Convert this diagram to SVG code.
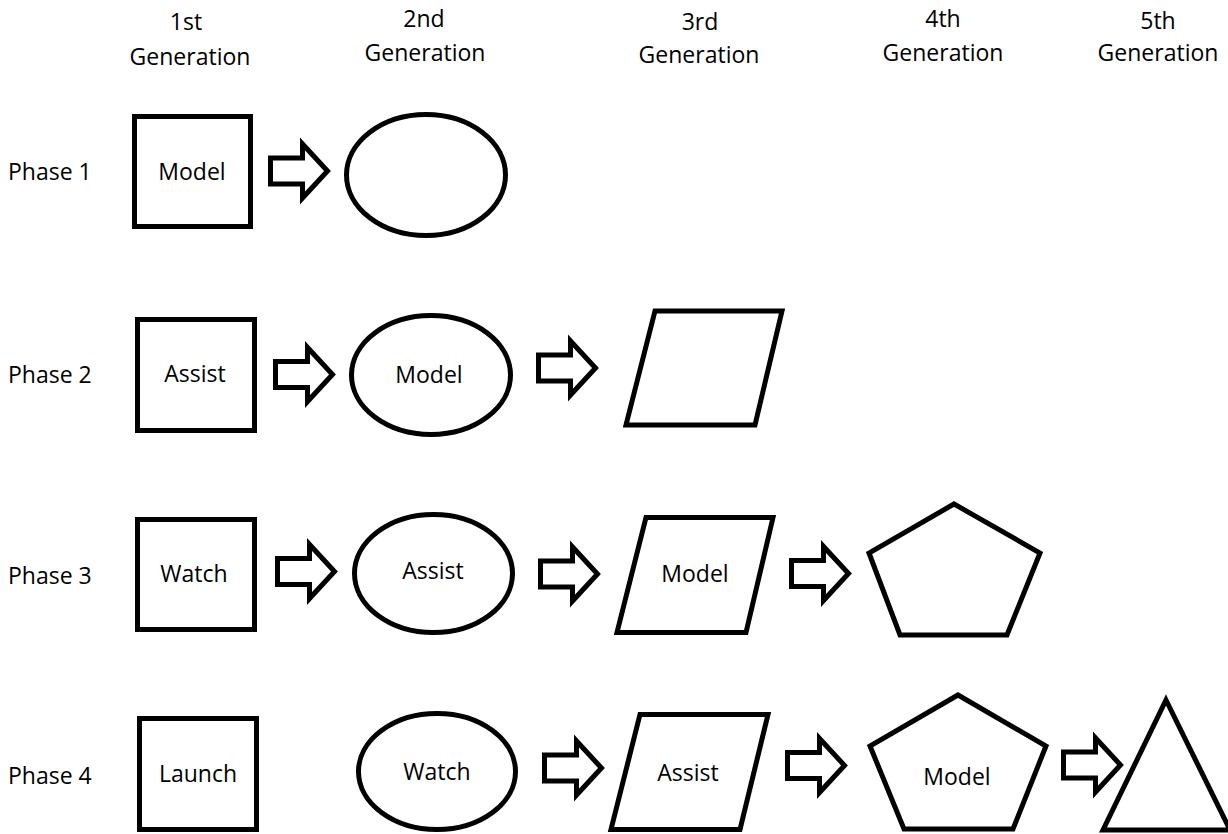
<svg xmlns="http://www.w3.org/2000/svg" width="1228" height="834" viewBox="0 0 1228 834">
<defs>
<style>
.s{fill:#fff;stroke:#000;stroke-width:5;stroke-linejoin:miter}
.t{font-family:"Open Sans","Noto Sans",sans-serif;font-size:23px;fill:#000}
.c{text-anchor:middle}
</style>
<path id="arr" d="M0,-13 H32 V-27 L57,0 L32,27 V13 H0 Z"/>
</defs>
<rect width="1228" height="834" fill="#fff"/>
<g id="headers" class="t c">
<text x="186" y="30">1st</text><text x="190" y="65">Generation</text>
<text x="424" y="27">2nd</text><text x="425" y="61">Generation</text>
<text x="700" y="30">3rd</text><text x="699" y="63">Generation</text>
<text x="943" y="27">4th</text><text x="943" y="61">Generation</text>
<text x="1158" y="29">5th</text><text x="1158" y="61">Generation</text>
</g>
<g id="phases" class="t">
<text x="8" y="180">Phase 1</text>
<text x="8" y="383">Phase 2</text>
<text x="8" y="584">Phase 3</text>
<text x="8" y="784">Phase 4</text>
</g>
<g id="connectors" class="s">
<use href="#arr" x="270.5" y="171"/>
<use href="#arr" x="275.5" y="374.5"/>
<use href="#arr" x="538.5" y="368"/>
<use href="#arr" x="277.5" y="571.5"/>
<use href="#arr" x="540.5" y="574"/>
<use href="#arr" x="791.5" y="573.5"/>
<use href="#arr" x="544.5" y="768"/>
<use href="#arr" x="787.5" y="765.5"/>
<use href="#arr" x="1063.5" y="765"/>
</g>
<g id="p1-g1"><rect class="s" x="134.5" y="116.5" width="116" height="110"/><text class="t c" x="192" y="180">Model</text></g>
<g id="p1-g2"><ellipse class="s" cx="426" cy="175" rx="79.5" ry="60.5"/></g>
<g id="p2-g1"><rect class="s" x="137.5" y="319.5" width="117" height="111"/><text class="t c" x="195" y="382">Assist</text></g>
<g id="p2-g2"><ellipse class="s" cx="431" cy="375" rx="79.5" ry="59.5"/><text class="t c" x="429" y="383">Model</text></g>
<g id="p2-g3"><polygon class="s" points="655,311 782,311 755,425 626,425"/></g>
<g id="p3-g1"><rect class="s" x="137.5" y="519.5" width="117" height="110"/><text class="t c" x="194" y="582">Watch</text></g>
<g id="p3-g2"><ellipse class="s" cx="433.5" cy="573.5" rx="79" ry="59"/><text class="t c" x="433" y="579">Assist</text></g>
<g id="p3-g3"><polygon class="s" points="646,517.5 773,517.5 746,632.5 617,632.5"/><text class="t c" x="695" y="582">Model</text></g>
<g id="p3-g4"><polygon class="s" points="954,504 1040,553 1007,635 900,635 869,553"/></g>
<g id="p4-g1"><rect class="s" x="139.5" y="718.5" width="117" height="111"/><text class="t c" x="198" y="782">Launch</text></g>
<g id="p4-g2"><ellipse class="s" cx="437" cy="771.5" rx="78.5" ry="58"/><text class="t c" x="437" y="780">Watch</text></g>
<g id="p4-g3"><polygon class="s" points="640,714.5 768,714.5 740,829.5 611,829.5"/><text class="t c" x="688" y="781">Assist</text></g>
<g id="p4-g4"><polygon class="s" points="958,695 1046,746 1013,829 904,829 870,746"/><text class="t c" x="957" y="785">Model</text></g>
<g id="p4-g5"><polygon class="s" points="1166,700 1230,830 1103,830"/></g>
</svg>
